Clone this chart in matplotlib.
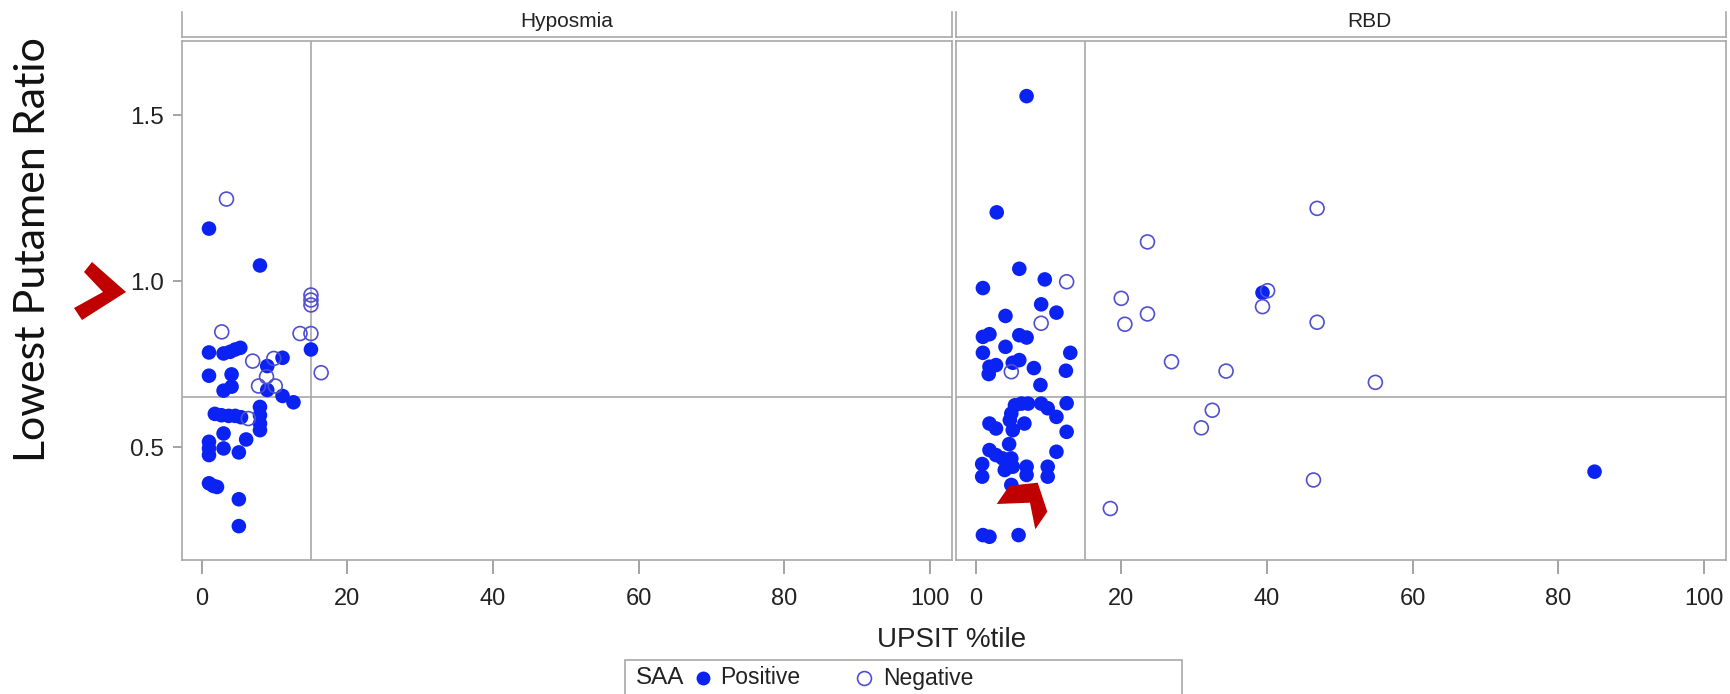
import matplotlib
matplotlib.use("Agg")
import matplotlib.pyplot as plt
from matplotlib.patches import Polygon, Rectangle
from matplotlib.lines import Line2D

# panel names
panels = ["Hyposmia", "RBD"]

# Hyposmia, SAA positive (filled)
hyp_pos_x = [1.0, 8.0, 15.0, 1.0, 3.0, 3.9, 4.6, 5.3, 11.1, 9.0, 1.0, 4.1, 4.1, 3.0,
             9.0, 11.1, 12.6, 1.8, 2.7, 3.7, 4.6, 5.4, 8.0, 8.0, 8.0, 8.0, 3.0, 6.1,
             1.0, 1.0, 1.0, 3.0, 5.1, 1.0, 1.6, 2.1, 5.1, 5.1]
hyp_pos_y = [1.158, 1.047, 0.794, 0.785, 0.782, 0.787, 0.794, 0.799, 0.769, 0.744, 0.715,
             0.719, 0.682, 0.670, 0.672, 0.654, 0.635, 0.600, 0.596, 0.594, 0.594, 0.590,
             0.621, 0.596, 0.571, 0.551, 0.541, 0.523, 0.516, 0.496, 0.476, 0.496, 0.484,
             0.391, 0.383, 0.380, 0.343, 0.262]
# Hyposmia, SAA negative (open)
hyp_neg_x = [3.4, 2.75, 15.0, 15.0, 15.0, 13.5, 15.0, 16.4, 7.0, 9.9, 8.9, 7.8, 10.1, 6.4]
hyp_neg_y = [1.247, 0.847, 0.958, 0.943, 0.928, 0.842, 0.842, 0.724, 0.759, 0.767, 0.712,
             0.684, 0.684, 0.586]

# RBD, SAA positive (filled)
rbd_pos_x = [7.0, 2.9, 6.0, 1.0, 9.5, 9.0, 11.1, 4.1, 1.0, 1.9, 6.0, 7.0, 4.1, 1.0, 13.0,
             1.9, 2.8, 5.1, 6.0, 8.0, 12.4, 1.8, 8.9, 5.4, 6.3, 7.2, 9.0, 9.9, 11.1, 12.5,
             4.9, 4.7, 1.9, 2.8, 5.1, 6.7, 12.5, 4.6, 1.9, 2.8, 3.7, 4.9, 5.1, 0.9, 0.9,
             4.0, 7.0, 7.0, 9.9, 9.9, 11.1, 4.9, 1.0, 1.9, 5.9, 39.4, 85.0]
rbd_pos_y = [1.557, 1.207, 1.037, 0.979, 1.005, 0.930, 0.905, 0.895, 0.832, 0.840, 0.837,
             0.830, 0.802, 0.784, 0.784, 0.742, 0.747, 0.754, 0.762, 0.738, 0.730, 0.720,
             0.687, 0.626, 0.631, 0.631, 0.631, 0.617, 0.591, 0.632, 0.601, 0.581, 0.571,
             0.556, 0.551, 0.571, 0.546, 0.509, 0.491, 0.476, 0.466, 0.466, 0.441, 0.449,
             0.411, 0.431, 0.441, 0.416, 0.441, 0.411, 0.486, 0.386, 0.235, 0.230, 0.235,
             0.965, 0.426]
# RBD, SAA negative (open)
rbd_neg_x = [12.5, 9.0, 4.9, 18.5, 46.9, 23.6, 20.0, 20.5, 23.6, 40.1, 39.4, 46.9, 26.9,
             34.4, 54.9, 32.5, 31.0, 46.4]
rbd_neg_y = [0.998, 0.873, 0.727, 0.315, 1.219, 1.118, 0.948, 0.870, 0.901, 0.971, 0.923,
             0.876, 0.757, 0.729, 0.695, 0.611, 0.558, 0.401]

x_ticks = [0, 20, 40, 60, 80, 100]
y_ticks = [0.5, 1.0, 1.5]
y_tick_labels = ["0.5", "1.0", "1.5"]
ref_x = 15
ref_y = 0.65

W, H = 1731, 694
FRAME = "#a8a8a8"
BLUE = "#0a22f2"
RING = "#4f4fd2"


def px(x, y):
    # figure pixel (from top-left) -> figure fraction
    return x / W, 1 - y / H


def main():
    plt.rcParams['font.family'] = ['Liberation Sans', 'DejaVu Sans']
    fig = plt.figure(figsize=(W / 100, H / 100), dpi=100)

    data = [
        (hyp_pos_x, hyp_pos_y, hyp_neg_x, hyp_neg_y),
        (rbd_pos_x, rbd_pos_y, rbd_neg_x, rbd_neg_y),
    ]
    lefts = [181.7, 955.6]
    title_x = [0.5, 0.537]
    width = 770.0

    for i, name in enumerate(panels):
        x0, y0 = px(lefts[i], 560)
        ax = fig.add_axes([x0, y0, width / W, (560 - 41) / H])
        px_, py_, nx_, ny_ = data[i]
        ax.scatter(px_, py_, s=110, color=BLUE, edgecolors='none', zorder=3)
        ax.scatter(nx_, ny_, s=100, facecolors='none', edgecolors=RING, linewidths=1.2, zorder=4)
        ax.axhline(ref_y, color=FRAME, lw=1.2, zorder=1)
        ax.axvline(ref_x, color=FRAME, lw=1.2, zorder=1)
        ax.set_xlim(-2.75, 103.0)
        ax.set_ylim(0.16, 1.723)
        ax.set_xticks(x_ticks)
        ax.tick_params(axis='x', length=10, width=1.1, color='#8a8a8a', pad=10,
                       labelsize=17, labelcolor='#222222')
        if i == 0:
            ax.set_yticks(y_ticks)
            ax.set_yticklabels(y_tick_labels)
            ax.tick_params(axis='y', length=6.5, width=1.1, color='#8a8a8a', pad=6,
                           labelsize=17.5, labelcolor='#222222')
        else:
            ax.set_yticks([])
        for sp in ax.spines.values():
            sp.set_color(FRAME)
            sp.set_linewidth(1.2)

        # header strip with panel name
        hx, hy = px(lefts[i], 37)
        hax = fig.add_axes([hx, hy, width / W, 25 / H])
        hax.set_xticks([])
        hax.set_yticks([])
        hax.spines['top'].set_visible(False)
        for sp in ['left', 'right', 'bottom']:
            hax.spines[sp].set_color(FRAME)
            hax.spines[sp].set_linewidth(1.2)
        hax.text(title_x[i], 0.62, name, transform=hax.transAxes, ha='center', va='center',
                 fontsize=15, color='#222222')

    # axis labels
    fig.text(*px(952, 640), "UPSIT %tile", ha='center', va='center', fontsize=20, color='#222222')
    fig.text(*px(33, 250), "Lowest Putamen Ratio", ha='center', va='center', rotation=90,
             fontsize=31, family=['Lato', 'DejaVu Sans'], color='#111111')

    # legend box (cut by the bottom edge)
    bx, by = px(625, 700)
    fig.add_artist(Rectangle((bx, by), (1182 - 625) / W, 40 / H, transform=fig.transFigure,
                             facecolor='white', edgecolor=FRAME, lw=1.2))
    fig.text(*px(636, 678), "SAA", ha='left', va='center', fontsize=17.5, color='#222222')
    fig.add_artist(Line2D([px(703, 678)[0]], [px(703, 678)[1]], transform=fig.transFigure,
                          marker='o', markersize=10, color=BLUE, markeredgecolor='none'))
    fig.text(*px(720, 678), "Positive", ha='left', va='center', fontsize=16.5, color='#222222')
    fig.add_artist(Line2D([px(864, 678)[0]], [px(864, 678)[1]], transform=fig.transFigure,
                          marker='o', markersize=10, markerfacecolor='none',
                          markeredgecolor=RING, markeredgewidth=1.2))
    fig.text(*px(883, 678), "Negative", ha='left', va='center', fontsize=16.5, color='#222222')

    # red chevrons drawn over the chart
    red = "#c00000"
    left_chev = [px(92, 262), px(126, 292), px(82, 320), px(74, 308), px(103, 292), px(84, 272)]
    right_chev = [px(996.7, 504), px(1009.3, 485.7), px(1037.7, 482.7), px(1047.3, 511.7),
                  px(1035.3, 529.3), px(1030, 502.7)]
    for pts in [left_chev, right_chev]:
        fig.add_artist(Polygon(pts, closed=True, transform=fig.transFigure,
                               facecolor=red, edgecolor='none', zorder=10))

    fig.savefig("out.png", dpi=100)


if __name__ == "__main__":
    main()
